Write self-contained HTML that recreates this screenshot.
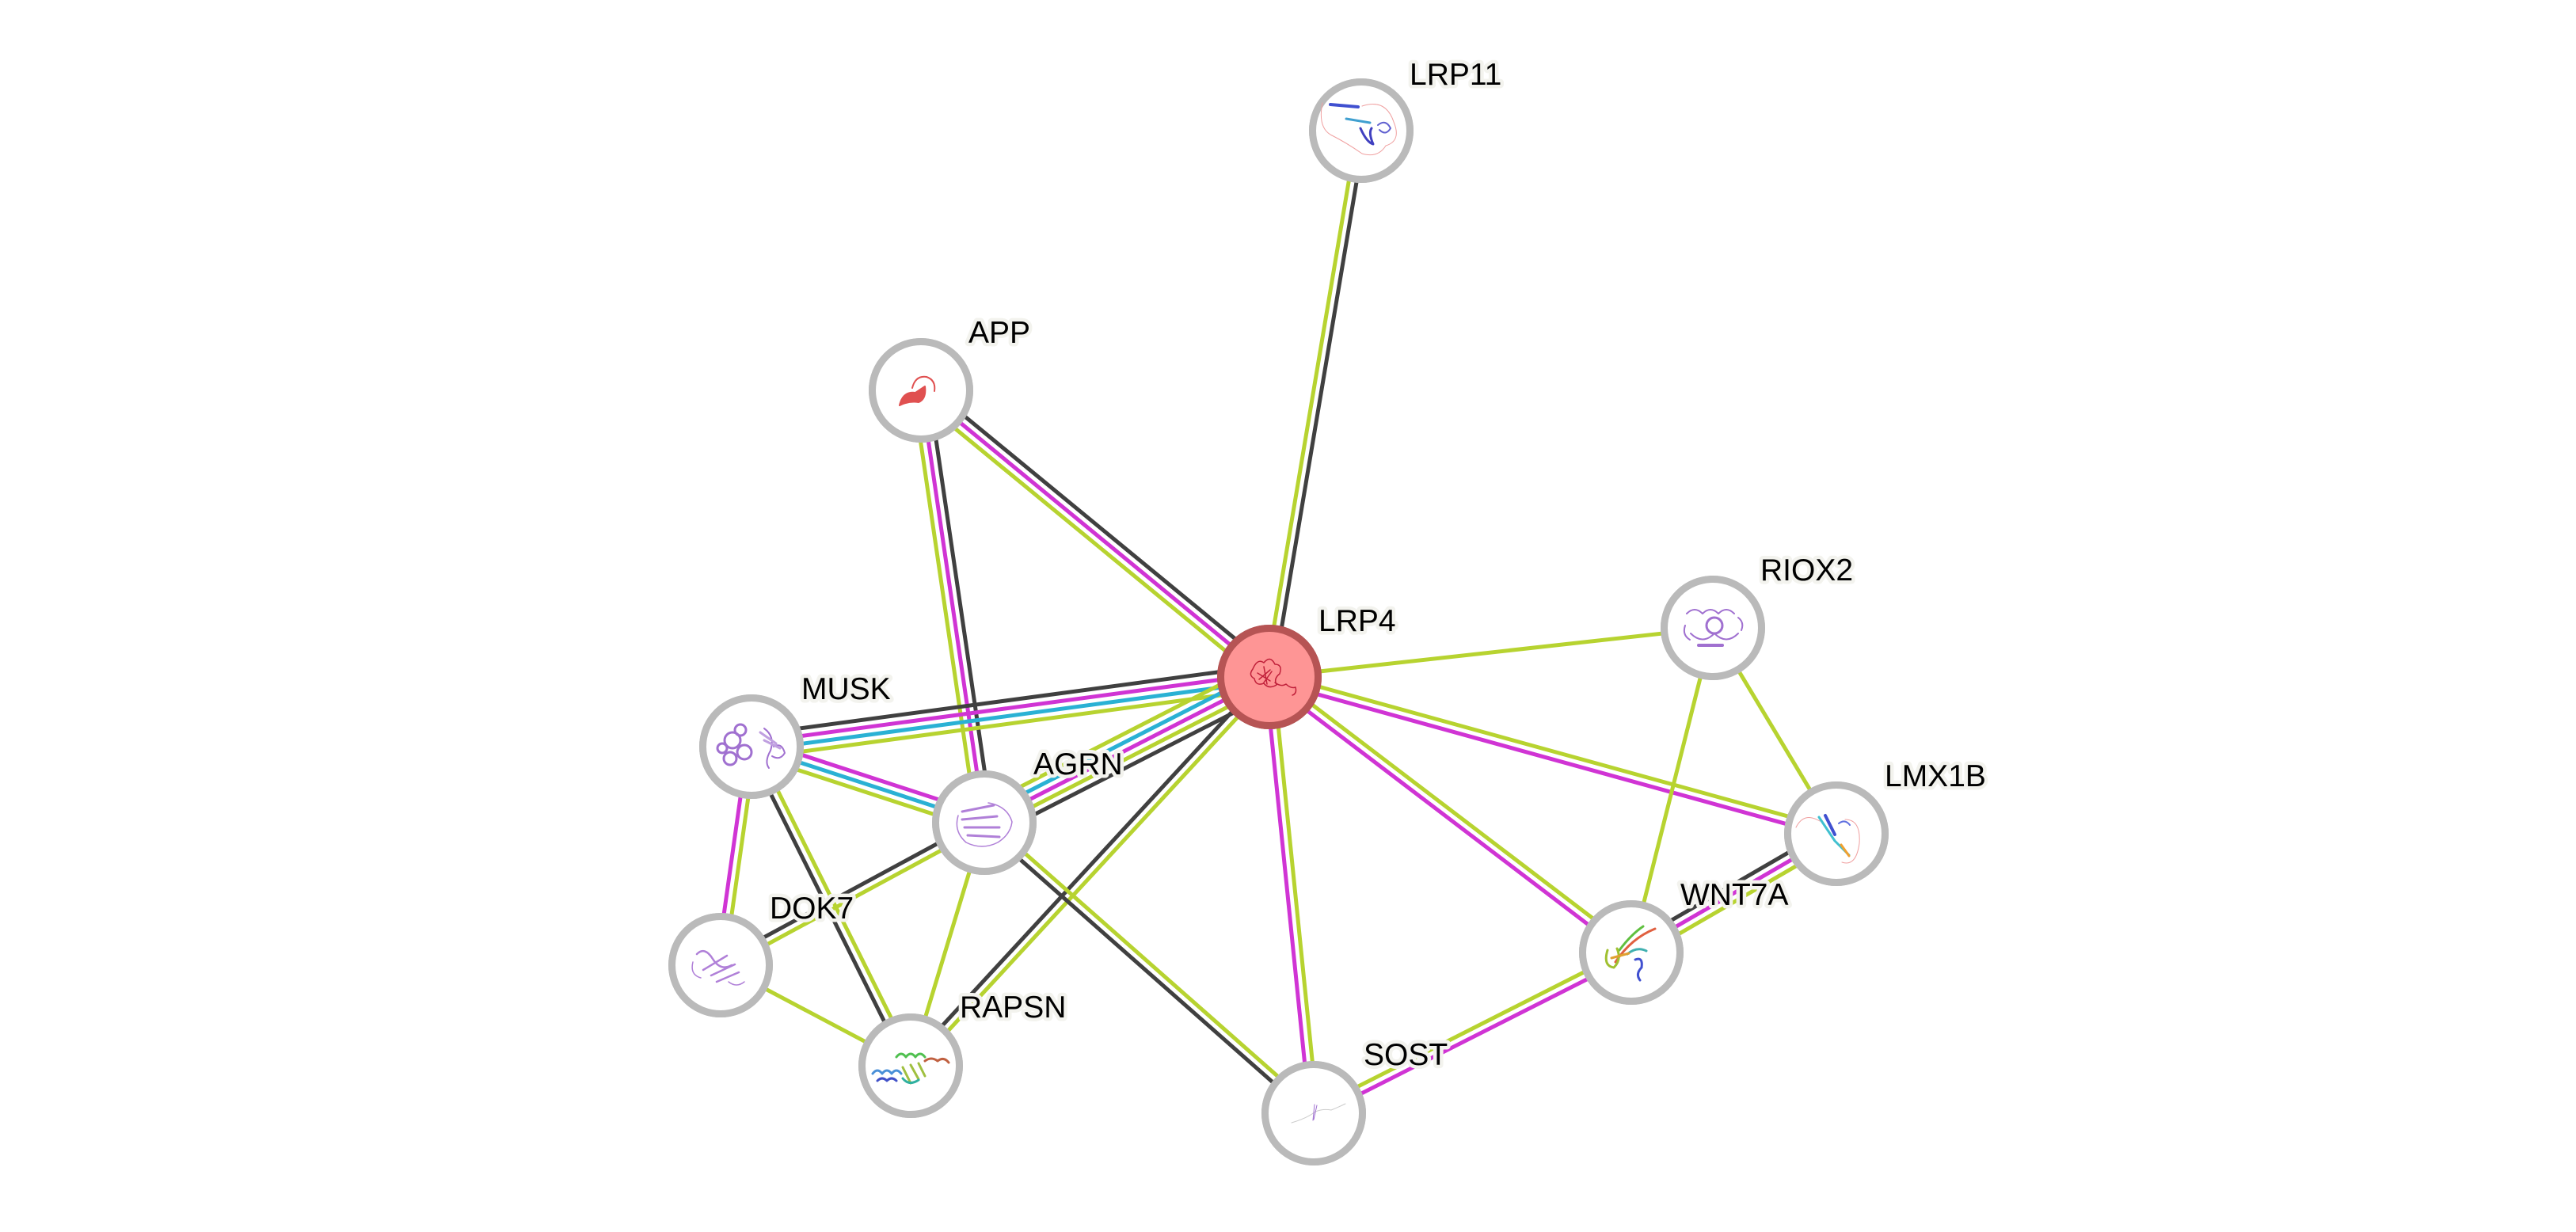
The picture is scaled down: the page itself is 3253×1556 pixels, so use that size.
<!DOCTYPE html>
<html>
<head>
<meta charset="utf-8">
<style>
html,body{margin:0;padding:0;background:#fff;}
svg{display:block;}
.lbl{font-family:"Liberation Sans",Arial,sans-serif;font-size:39px;fill:#000;stroke:#f3f3ee;stroke-width:9;stroke-linejoin:round;paint-order:stroke;}
</style>
</head>
<body>
<svg width="3253" height="1556" viewBox="0 0 3253 1556" xmlns="http://www.w3.org/2000/svg">
<defs>
<radialGradient id="ng" cx="50%" cy="50%" r="50%">
<stop offset="0" stop-color="#fff"/>
<stop offset="0.86" stop-color="#fff"/>
<stop offset="0.93" stop-color="#e6e6e6"/>
<stop offset="1" stop-color="#bbb"/>
</radialGradient>
<radialGradient id="rg" cx="50%" cy="50%" r="50%">
<stop offset="0" stop-color="#fe9595"/>
<stop offset="0.86" stop-color="#fe9595"/>
<stop offset="0.93" stop-color="#e07878"/>
<stop offset="1" stop-color="#b65454"/>
</radialGradient>
</defs>
<rect width="3253" height="1556" fill="#fff"/>
<g stroke-width="5" fill="none" stroke-linecap="butt">
<!-- 1 LRP4-LRP11 -->
<g transform="translate(1603,855) rotate(-80.46)">
<line x1="0" y1="-4.9" x2="699.7" y2="-4.9" stroke="#b7d330"/>
<line x1="0" y1="4.9" x2="699.7" y2="4.9" stroke="#404040"/>
</g>
<!-- 2 LRP4-APP -->
<g transform="translate(1603,855) rotate(-140.56)">
<line x1="0" y1="-9.8" x2="569.8" y2="-9.8" stroke="#b7d330"/>
<line x1="0" y1="0" x2="569.8" y2="0" stroke="#d034d4"/>
<line x1="0" y1="9.8" x2="569.8" y2="9.8" stroke="#404040"/>
</g>
<!-- 3 APP-AGRN -->
<g transform="translate(1163,493) rotate(81.66)">
<line x1="0" y1="-9.8" x2="551.8" y2="-9.8" stroke="#404040"/>
<line x1="0" y1="0" x2="551.8" y2="0" stroke="#d034d4"/>
<line x1="0" y1="9.8" x2="551.8" y2="9.8" stroke="#b7d330"/>
</g>
<!-- 4 LRP4-MUSK -->
<g transform="translate(1603,855) rotate(172.34)">
<line x1="0" y1="-14.7" x2="659.9" y2="-14.7" stroke="#b7d330"/>
<line x1="0" y1="-4.9" x2="659.9" y2="-4.9" stroke="#2ab1d4"/>
<line x1="0" y1="4.9" x2="659.9" y2="4.9" stroke="#d034d4"/>
<line x1="0" y1="14.7" x2="659.9" y2="14.7" stroke="#404040"/>
</g>
<!-- 5 LRP4-AGRN -->
<g transform="translate(1603,855) rotate(152.93)">
<line x1="0" y1="-19.6" x2="404.3" y2="-19.6" stroke="#404040"/>
<line x1="0" y1="-9.8" x2="404.3" y2="-9.8" stroke="#b7d330"/>
<line x1="0" y1="0" x2="404.3" y2="0" stroke="#d034d4"/>
<line x1="0" y1="9.8" x2="404.3" y2="9.8" stroke="#2ab1d4"/>
<line x1="0" y1="19.6" x2="404.3" y2="19.6" stroke="#b7d330"/>
</g>
<!-- 6 AGRN-DOK7 -->
<g transform="translate(1243,1039) rotate(151.61)">
<line x1="0" y1="-4.9" x2="378.5" y2="-4.9" stroke="#b7d330"/>
<line x1="0" y1="4.9" x2="378.5" y2="4.9" stroke="#404040"/>
</g>
<!-- 7 MUSK-AGRN -->
<g transform="translate(949,943) rotate(18.08)">
<line x1="0" y1="-9.8" x2="309.3" y2="-9.8" stroke="#d034d4"/>
<line x1="0" y1="0" x2="309.3" y2="0" stroke="#2ab1d4"/>
<line x1="0" y1="9.8" x2="309.3" y2="9.8" stroke="#b7d330"/>
</g>
<!-- 8 MUSK-DOK7 -->
<g transform="translate(949,943) rotate(98.04)">
<line x1="0" y1="-4.9" x2="278.7" y2="-4.9" stroke="#b7d330"/>
<line x1="0" y1="4.9" x2="278.7" y2="4.9" stroke="#d034d4"/>
</g>
<!-- 9 MUSK-RAPSN -->
<g transform="translate(949,943) rotate(63.49)">
<line x1="0" y1="-4.9" x2="450.3" y2="-4.9" stroke="#b7d330"/>
<line x1="0" y1="4.9" x2="450.3" y2="4.9" stroke="#404040"/>
</g>
<!-- 10 DOK7-RAPSN -->
<line x1="910" y1="1219" x2="1150" y2="1346" stroke="#b7d330"/>
<!-- 11 AGRN-RAPSN -->
<line x1="1243" y1="1039" x2="1150" y2="1346" stroke="#b7d330"/>
<!-- 12 LRP4-RAPSN -->
<g transform="translate(1603,855) rotate(132.70)">
<line x1="0" y1="-4.9" x2="668" y2="-4.9" stroke="#b7d330"/>
<line x1="0" y1="4.9" x2="668" y2="4.9" stroke="#404040"/>
</g>
<!-- 13 AGRN-SOST -->
<g transform="translate(1243,1039) rotate(41.42)">
<line x1="0" y1="-4.9" x2="554.7" y2="-4.9" stroke="#b7d330"/>
<line x1="0" y1="4.9" x2="554.7" y2="4.9" stroke="#404040"/>
</g>
<!-- 14 LRP4-SOST -->
<g transform="translate(1603,855) rotate(84.20)">
<line x1="0" y1="-4.9" x2="553.8" y2="-4.9" stroke="#b7d330"/>
<line x1="0" y1="4.9" x2="553.8" y2="4.9" stroke="#d034d4"/>
</g>
<!-- 15 LRP4-WNT7A -->
<g transform="translate(1603,855) rotate(37.29)">
<line x1="0" y1="-4.9" x2="574.4" y2="-4.9" stroke="#b7d330"/>
<line x1="0" y1="4.9" x2="574.4" y2="4.9" stroke="#d034d4"/>
</g>
<!-- 16 LRP4-LMX1B -->
<g transform="translate(1603,855) rotate(15.46)">
<line x1="0" y1="-4.9" x2="742.9" y2="-4.9" stroke="#b7d330"/>
<line x1="0" y1="4.9" x2="742.9" y2="4.9" stroke="#d034d4"/>
</g>
<!-- 17 LRP4-RIOX2 -->
<line x1="1603" y1="855" x2="2163" y2="793" stroke="#b7d330"/>
<!-- 18 RIOX2-WNT7A -->
<line x1="2163" y1="793" x2="2060" y2="1203" stroke="#b7d330"/>
<!-- 19 RIOX2-LMX1B -->
<line x1="2163" y1="793" x2="2319" y2="1053" stroke="#b7d330"/>
<!-- 20 WNT7A-LMX1B -->
<g transform="translate(2060,1203) rotate(-30.08)">
<line x1="0" y1="-9.8" x2="299.3" y2="-9.8" stroke="#404040"/>
<line x1="0" y1="0" x2="299.3" y2="0" stroke="#d034d4"/>
<line x1="0" y1="9.8" x2="299.3" y2="9.8" stroke="#b7d330"/>
</g>
<!-- 21 SOST-WNT7A -->
<g transform="translate(1659,1406) rotate(-26.85)">
<line x1="0" y1="-4.9" x2="449.5" y2="-4.9" stroke="#b7d330"/>
<line x1="0" y1="4.9" x2="449.5" y2="4.9" stroke="#d034d4"/>
</g>
</g>

<!-- Nodes -->
<g>
<circle cx="1719" cy="165" r="66" fill="url(#ng)"/><circle cx="1719" cy="165" r="61.5" fill="none" stroke="#bababa" stroke-width="9"/>
<circle cx="1163" cy="493" r="66" fill="url(#ng)"/><circle cx="1163" cy="493" r="61.5" fill="none" stroke="#bababa" stroke-width="9"/>
<circle cx="2163" cy="793" r="66" fill="url(#ng)"/><circle cx="2163" cy="793" r="61.5" fill="none" stroke="#bababa" stroke-width="9"/>
<circle cx="949" cy="943" r="66" fill="url(#ng)"/><circle cx="949" cy="943" r="61.5" fill="none" stroke="#bababa" stroke-width="9"/>
<circle cx="1243" cy="1039" r="66" fill="url(#ng)"/><circle cx="1243" cy="1039" r="61.5" fill="none" stroke="#bababa" stroke-width="9"/>
<circle cx="2319" cy="1053" r="66" fill="url(#ng)"/><circle cx="2319" cy="1053" r="61.5" fill="none" stroke="#bababa" stroke-width="9"/>
<circle cx="2060" cy="1203" r="66" fill="url(#ng)"/><circle cx="2060" cy="1203" r="61.5" fill="none" stroke="#bababa" stroke-width="9"/>
<circle cx="910" cy="1219" r="66" fill="url(#ng)"/><circle cx="910" cy="1219" r="61.5" fill="none" stroke="#bababa" stroke-width="9"/>
<circle cx="1150" cy="1346" r="66" fill="url(#ng)"/><circle cx="1150" cy="1346" r="61.5" fill="none" stroke="#bababa" stroke-width="9"/>
<circle cx="1659" cy="1406" r="66" fill="url(#ng)"/><circle cx="1659" cy="1406" r="61.5" fill="none" stroke="#bababa" stroke-width="9"/>
<circle cx="1603" cy="855" r="66" fill="url(#rg)"/><circle cx="1603" cy="855" r="61.5" fill="none" stroke="#b65454" stroke-width="9"/>
</g>

<!-- Structure sketches -->
<g fill="none" stroke-linecap="round" stroke-linejoin="round">
<!-- LRP4 -->
<g stroke="#c0203a" stroke-width="1.5">
<path d="M1582 845 q6 -14 14 -8 q8 -10 14 2 q10 0 6 12 q-8 6 -4 14 q-10 6 -16 -2 q-10 4 -12 -6 q-8 -4 -2 -12z"/>
<path d="M1588 850 l16 10 M1590 858 l14 -12 M1596 842 l4 22 M1606 848 l-10 14"/>
<path d="M1610 862 q8 6 14 2 q6 6 12 4 q2 8 -4 10"/>
</g>
<!-- LRP11 -->
<g stroke-width="2">
<path d="M1680 132 l35 3" stroke="#4050d0" stroke-width="4"/>
<path d="M1700 150 l30 5" stroke="#40a0d0" stroke-width="3"/>
<path d="M1718 162 q8 18 16 20 q-6 -14 -2 -20" stroke="#4040c0" stroke-width="3"/>
<path d="M1740 158 q10 -8 16 4 q-6 10 -14 2" stroke="#6060d0"/>
<path d="M1670 130 q-6 30 10 40 q20 10 40 24 q20 6 30 -10 q20 -6 10 -30 q-10 -30 -40 -20" stroke="#f0a0a0" stroke-width="1"/>
</g>
<!-- APP -->
<g stroke="#e05050">
<path d="M1136 512 q4 -18 20 -16 l12 -8 q2 16 -8 20 q-12 -2 -24 4z" fill="#e05050" stroke-width="2"/>
<path d="M1152 490 q4 -16 18 -14 q12 4 10 18" stroke-width="2"/>
</g>
<!-- RIOX2 -->
<g stroke="#a070d0" stroke-width="2">
<path d="M2130 775 q10 -10 20 0 q10 -10 20 0 q10 -10 20 0"/>
<path d="M2135 800 q15 15 30 0 q15 15 30 0"/>
<path d="M2145 815 l30 0" stroke-width="4"/>
<circle cx="2165" cy="790" r="10" stroke-width="3"/>
<path d="M2128 790 q-4 12 6 18 M2195 780 q8 6 4 16"/>
</g>
<!-- MUSK -->
<g stroke="#a070d0" stroke-width="3">
<circle cx="925" cy="935" r="10"/><circle cx="940" cy="950" r="9"/><circle cx="922" cy="958" r="8"/>
<circle cx="935" cy="922" r="7"/><circle cx="912" cy="945" r="6"/>
<path d="M965 920 q14 10 8 28 q-8 14 -2 22" stroke-width="2"/>
<path d="M975 955 q10 6 16 -4 q-4 -14 -14 -8" stroke-width="2"/>
<path d="M960 925 l20 14 M965 935 l20 10" stroke="#c0a0e0" stroke-width="3"/>
</g>
<!-- AGRN -->
<g stroke="#b080d8" stroke-width="3">
<path d="M1215 1025 l40 -8 M1215 1035 l44 -4 M1218 1045 l44 0 M1222 1055 l40 2"/>
<path d="M1210 1030 q-6 20 10 34 q20 10 40 0 q16 -10 18 -26 q-6 -20 -30 -24" stroke-width="1.5"/>
</g>
<!-- LMX1B -->
<g>
<path d="M2297 1032 l20 30 l18 18" stroke="#40c0d0" stroke-width="3"/>
<path d="M2305 1030 l12 24" stroke="#4050d0" stroke-width="4"/>
<path d="M2325 1067 l10 14" stroke="#f0a030" stroke-width="3"/>
<path d="M2268 1045 q10 -20 30 -8 M2330 1035 q20 0 18 30 q-4 30 -22 24" stroke="#f0a0a0" stroke-width="1"/>
<path d="M2322 1040 q8 -6 14 2" stroke="#6070e0" stroke-width="2"/>
</g>
<!-- WNT7A -->
<g stroke-width="3">
<path d="M2040 1215 q20 -30 50 -42" stroke="#e06040"/>
<path d="M2045 1200 q15 -20 30 -30" stroke="#60c040"/>
<path d="M2030 1200 q-6 20 8 22 q10 -10 4 -24" stroke="#a0c030"/>
<path d="M2065 1212 q10 -4 8 10 q-8 8 -2 16" stroke="#4050d0"/>
<path d="M2055 1205 q12 -10 24 -4" stroke="#40b0b0"/>
<path d="M2035 1210 l22 -6" stroke="#e0a030"/>
</g>
<!-- DOK7 -->
<g stroke="#b080d8" stroke-width="2.5">
<path d="M880 1205 q10 -10 20 6 q10 16 24 8"/>
<path d="M888 1225 l30 -18 M898 1232 l30 -14 M905 1240 l28 -12"/>
<path d="M875 1215 q-4 16 10 20 M920 1240 q10 8 20 0" stroke-width="1.5"/>
</g>
<!-- RAPSN -->
<g stroke-width="3">
<path d="M1102 1356 q6 -8 12 0 q6 -8 12 0 q6 -8 12 0" stroke="#4a90d8"/>
<path d="M1108 1365 q6 -6 12 0 q6 -6 12 0" stroke="#4050c8"/>
<path d="M1132 1335 q6 -8 12 0 q6 -8 12 0 q6 -8 12 0" stroke="#50c050"/>
<path d="M1140 1348 l10 20 M1150 1345 l10 18 M1160 1343 l8 16" stroke="#a0c040"/>
<path d="M1140 1362 q8 10 20 2" stroke="#30b0a0"/>
<path d="M1168 1340 q8 -6 16 0 q8 -6 14 2" stroke="#c06040"/>
</g>
<!-- SOST -->
<g stroke-width="1">
<path d="M1631 1418 q20 -6 30 -14 q10 -4 20 -2 q10 -4 18 -8" stroke="#cccccc"/>
<path d="M1660 1395 l-2 20 M1663 1396 l-4 18" stroke="#a070d0"/>
</g>
</g>

<!-- Labels -->
<g class="lbl">
<text x="1780" y="107">LRP11</text>
<text x="1223" y="433">APP</text>
<text x="1665" y="797">LRP4</text>
<text x="2223" y="733">RIOX2</text>
<text x="1012" y="883">MUSK</text>
<text x="1305" y="978">AGRN</text>
<text x="2380" y="993">LMX1B</text>
<text x="2122" y="1143">WNT7A</text>
<text x="972" y="1160">DOK7</text>
<text x="1212" y="1285">RAPSN</text>
<text x="1722" y="1345">SOST</text>
</g>
</svg>
</body>
</html>
